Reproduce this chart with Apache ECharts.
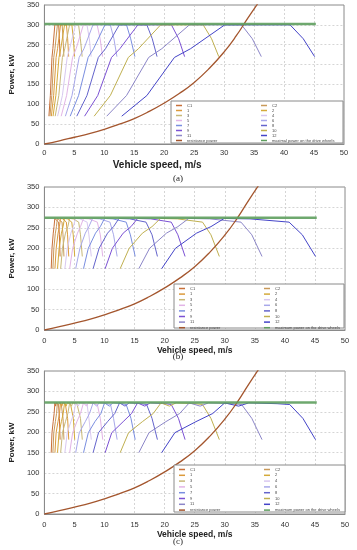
<!DOCTYPE html>
<html><head><meta charset="utf-8">
<script src="https://cdn.jsdelivr.net/npm/echarts/dist/echarts.min.js"></script>
<style>html,body{margin:0;padding:0;background:#fff}#c{width:357px;height:550px}</style>
</head><body><div id="c"></div>
<script>
// ---------- data ----------
const gearNames = ['C1','C2','1','2','3','4','5','6','7','8','9','10','11','12'];
const legendLeft = ['C1','1','3','5','7','9','11','resistance power'];
const legendRightA = ['C2','2','4','6','8','10','12','maximal power on the drive wheels'];
const legendRightBC = ['C2','2','4','6','8','10','12','maximum power on the drive wheels'];
const xTicks = [0,5,10,15,20,25,30,35,40,45,50];
const yTicks = [0,50,100,150,200,250,300,350];

// plot (a): power points shared by each gear curve, speeds per gear (C1..12)
const powerA = [70, 122, 218, 240, 300, 300, 265, 220];
const speedA = [
  [0.75, 0.99, 1.26, 1.41, 1.74, 2.38, 2.50, 2.61],
  [0.93, 1.23, 1.56, 1.76, 2.17, 2.96, 3.11, 3.25],
  [1.16, 1.54, 1.95, 2.19, 2.70, 3.68, 3.88, 4.05],
  [1.44, 1.91, 2.43, 2.73, 3.36, 4.58, 4.83, 5.04],
  [1.8, 2.4, 3.0, 3.4, 4.2, 5.7, 6.0, 6.3],
  [2.2, 3.0, 3.8, 4.2, 5.2, 7.1, 7.5, 7.8],
  [2.8, 3.7, 4.7, 5.3, 6.5, 8.8, 9.3, 9.7],
  [3.5, 4.6, 5.8, 6.6, 8.1, 11.0, 11.6, 12.1],
  [4.3, 5.7, 7.3, 8.2, 10.1, 13.7, 14.4, 15.1],
  [5.4, 7.1, 9.0, 10.2, 12.5, 17.1, 18.0, 18.8],
  [6.7, 8.9, 11.2, 12.6, 15.6, 21.2, 22.4, 23.4],
  [8.3, 11.0, 14.0, 15.7, 19.4, 26.5, 27.9, 29.1],
  [10.4, 13.7, 17.4, 19.6, 24.2, 32.9, 34.7, 36.2],
  [12.9, 17.1, 21.7, 24.4, 30.1, 41.0, 43.2, 45.1]
];

// plot (b)
const powerB = [150, 200, 237, 253, 273, 272, 264, 233, 180];
const speedB = [
  [1.13, 1.26, 1.47, 1.60, 1.73, 1.98, 2.36, 2.49, 2.61],
  [1.41, 1.57, 1.82, 2.00, 2.16, 2.47, 2.93, 3.09, 3.25],
  [1.75, 1.96, 2.27, 2.49, 2.68, 3.07, 3.65, 3.85, 4.05],
  [2.18, 2.44, 2.83, 3.10, 3.34, 3.82, 4.55, 4.79, 5.04],
  [2.7, 3.0, 3.5, 3.9, 4.2, 4.8, 5.7, 6.0, 6.3],
  [3.4, 3.8, 4.4, 4.8, 5.2, 5.9, 7.1, 7.4, 7.8],
  [4.2, 4.7, 5.5, 6.0, 6.5, 7.4, 8.8, 9.3, 9.7],
  [5.2, 5.9, 6.8, 7.4, 8.0, 9.2, 10.9, 11.5, 12.1],
  [6.5, 7.3, 8.5, 9.3, 10.0, 11.4, 13.6, 14.3, 15.1],
  [8.1, 9.1, 10.5, 11.5, 12.4, 14.2, 16.9, 17.9, 18.8],
  [10.1, 11.3, 13.1, 14.4, 15.5, 17.7, 21.1, 22.2, 23.4],
  [12.6, 14.1, 16.3, 17.9, 19.3, 22.1, 26.3, 27.7, 29.1],
  [15.7, 17.5, 20.3, 22.2, 24.0, 27.5, 32.7, 34.5, 36.2],
  [19.5, 21.8, 25.3, 27.7, 29.9, 34.2, 40.7, 42.9, 45.1]
];

// plot (c)
const powerC = [150, 199, 226, 246, 272, 264, 272, 270, 268, 234, 182];
const speedC = [
  [1.13, 1.26, 1.46, 1.62, 1.74, 1.87, 1.97, 2.24, 2.36, 2.49, 2.61],
  [1.41, 1.56, 1.82, 2.02, 2.16, 2.33, 2.45, 2.79, 2.94, 3.10, 3.25],
  [1.75, 1.95, 2.26, 2.51, 2.69, 2.90, 3.05, 3.47, 3.66, 3.86, 4.05],
  [2.18, 2.43, 2.82, 3.13, 3.35, 3.61, 3.80, 4.33, 4.56, 4.81, 5.04],
  [2.7, 3.0, 3.5, 3.9, 4.2, 4.5, 4.7, 5.4, 5.7, 6.0, 6.3],
  [3.4, 3.8, 4.4, 4.9, 5.2, 5.6, 5.9, 6.7, 7.1, 7.4, 7.8],
  [4.2, 4.7, 5.4, 6.0, 6.5, 7.0, 7.3, 8.3, 8.8, 9.3, 9.7],
  [5.2, 5.8, 6.8, 7.5, 8.1, 8.7, 9.1, 10.4, 11.0, 11.5, 12.1],
  [6.5, 7.3, 8.4, 9.4, 10.0, 10.8, 11.4, 12.9, 13.6, 14.4, 15.1],
  [8.1, 9.0, 10.5, 11.7, 12.5, 13.4, 14.1, 16.1, 17.0, 17.9, 18.8],
  [10.1, 11.2, 13.1, 14.5, 15.5, 16.7, 17.6, 20.1, 21.1, 22.3, 23.4],
  [12.6, 14.0, 16.3, 18.1, 19.4, 20.8, 21.9, 25.0, 26.3, 27.7, 29.1],
  [15.7, 17.4, 20.2, 22.5, 24.1, 25.9, 27.3, 31.1, 32.8, 34.5, 36.2],
  [19.5, 21.7, 25.2, 28.0, 30.0, 32.3, 34.0, 38.7, 40.8, 43.0, 45.1]
];

// resistance power curve (same in all three plots)
const resSpeed = [0, 2.5, 5, 7.5, 10, 12.5, 15, 17.5, 20, 22.5, 25, 27.5, 30, 32, 34, 36];
const resPower = [0, 8, 17, 26, 37, 50, 64, 82, 103, 127, 155, 190, 232, 272, 318, 362];

// maximal power on drive wheels
const maxSpeed = [0, 45.3];
const maxPowerA = [302, 302];
const maxPowerB = [275, 275];
const maxPowerC = [273, 273];

const panelLabels = ['(a)','(b)','(c)'];

// ---------- styling ----------
const gearColors = ['#c8703a','#c99a5a','#dc9a3c','#d4aa3a','#c8b878','#d8c8f0','#e2b4e6',
  '#a8a8ea','#7a8ee0','#6464cc','#7c52d4','#c0b050','#8c86c8','#4444c8'];
const resColor = '#a4562e';
const maxColor = '#5e9e5e';

const grids = [
  {left: 38, top: 5, width: 306, height: 139},
  {left: 39, top: 187, width: 306, height: 143},
  {left: 38, top: 371, width: 307, height: 143}
];
const xNameGap = [16, 12, 11];
const xNameSize = [10, 8.5, 8.5];
const xNamePad = [[0, 74, 0, 0], 0, 0];
const panelY = [179, 357, 542];
const boxes = [
  {x: 171, y: 101, w: 172, h: 42},
  {x: 174, y: 284, w: 170, h: 44},
  {x: 174, y: 465, w: 171, h: 47}
];
const legendGap = [0, 0.6, 0.8];

const powers = [powerA, powerB, powerC];
const speeds = [speedA, speedB, speedC];
const maxPowers = [maxPowerA, maxPowerB, maxPowerC];
const rightLegends = [legendRightA, legendRightBC, legendRightBC];

const axisFont = 'Liberation Sans';
const xAxes = [], yAxes = [], series = [], legends = [], graphics = [];

grids.forEach((g, gi) => {
  xAxes.push({
    type: 'value', gridIndex: gi, min: xTicks[0], max: xTicks[xTicks.length-1], interval: xTicks[1]-xTicks[0],
    axisLine: {show: true, lineStyle: {color: '#8a8a8a', width: 1}},
    axisTick: {show: false},
    splitLine: {show: true, lineStyle: {color: '#c4c4c4', type: [2, 2], width: 0.7}},
    axisLabel: {fontSize: 7.5, color: '#333', margin: gi === 0 ? 5 : 7, fontFamily: axisFont},
    name: 'Vehicle speed, m/s', nameLocation: 'middle', nameGap: xNameGap[gi],
    nameTextStyle: {fontSize: xNameSize[gi], fontWeight: 'bold', color: '#222', fontFamily: axisFont, padding: xNamePad[gi]}
  });
  yAxes.push({
    type: 'value', gridIndex: gi, min: yTicks[0], max: yTicks[yTicks.length-1], interval: yTicks[1]-yTicks[0],
    axisLine: {show: true, lineStyle: {color: '#8a8a8a', width: 1}},
    axisTick: {show: false},
    splitLine: {show: true, lineStyle: {color: '#c4c4c4', type: [2, 2], width: 0.7}},
    axisLabel: {fontSize: 7.5, color: '#333', margin: 5, fontFamily: axisFont},
    name: 'Power, kW', nameLocation: 'middle', nameGap: 23, nameRotate: 90,
    nameTextStyle: {fontSize: 8, fontWeight: 'bold', color: '#222', fontFamily: axisFont}
  });
  gearNames.forEach((nm, k) => {
    series.push({
      type: 'line', name: nm, xAxisIndex: gi, yAxisIndex: gi,
      data: speeds[gi][k].map((v, i) => [v, powers[gi][i]]),
      showSymbol: false, symbol: 'none', silent: true,
      lineStyle: {color: gearColors[k], width: 1}, itemStyle: {color: gearColors[k]}, z: 2
    });
  });
  series.push({
    type: 'line', name: 'resistance power', xAxisIndex: gi, yAxisIndex: gi,
    data: resSpeed.map((v, i) => [v, resPower[i]]), smooth: true,
    showSymbol: false, symbol: 'none', silent: true,
    lineStyle: {color: resColor, width: 1.3}, itemStyle: {color: resColor}, z: 3
  });
  series.push({
    type: 'line', name: gi === 0 ? 'maximal power on the drive wheels' : 'maximum power on the drive wheels',
    xAxisIndex: gi, yAxisIndex: gi,
    data: maxSpeed.map((v, i) => [v, maxPowers[gi][i]]),
    showSymbol: false, symbol: 'none', silent: true,
    lineStyle: {color: maxColor, width: 2.5, opacity: 0.9}, itemStyle: {color: maxColor}, z: 3
  });
  const b = boxes[gi];
  graphics.push({
    type: 'rect', z: 5, silent: true,
    shape: {x: b.x, y: b.y, width: b.w, height: b.h},
    style: {fill: '#fff', stroke: '#8a8a8a', lineWidth: 1}
  });
  graphics.push({
    type: 'text', z: 5, silent: true, x: 178, y: panelY[gi],
    style: {text: panelLabels[gi], fill: '#222', font: '9px "Liberation Serif"', textAlign: 'center', textVerticalAlign: 'middle'}
  });
  const legCommon = {
    orient: 'vertical', top: b.y + 2, itemWidth: 6, itemHeight: 1.5, itemGap: legendGap[gi],
    icon: 'rect', selectedMode: false, padding: 0, z: 10,
    textStyle: {fontSize: 4, lineHeight: 5, color: '#444', fontFamily: axisFont, padding: 0}
  };
  legends.push(Object.assign({}, legCommon, {left: b.x + 5, data: legendLeft}));
  legends.push(Object.assign({}, legCommon, {left: b.x + 90, data: rightLegends[gi]}));
});

const chart = echarts.init(document.getElementById('c'), null, {renderer: 'canvas'});
chart.setOption({
  animation: false,
  backgroundColor: '#fff',
  grid: grids.map(g => Object.assign({show: true, borderColor: '#8a8a8a', borderWidth: 1, backgroundColor: 'transparent'}, g)),
  xAxis: xAxes, yAxis: yAxes, series: series, legend: legends,
  graphic: graphics
});
</script></body></html>
